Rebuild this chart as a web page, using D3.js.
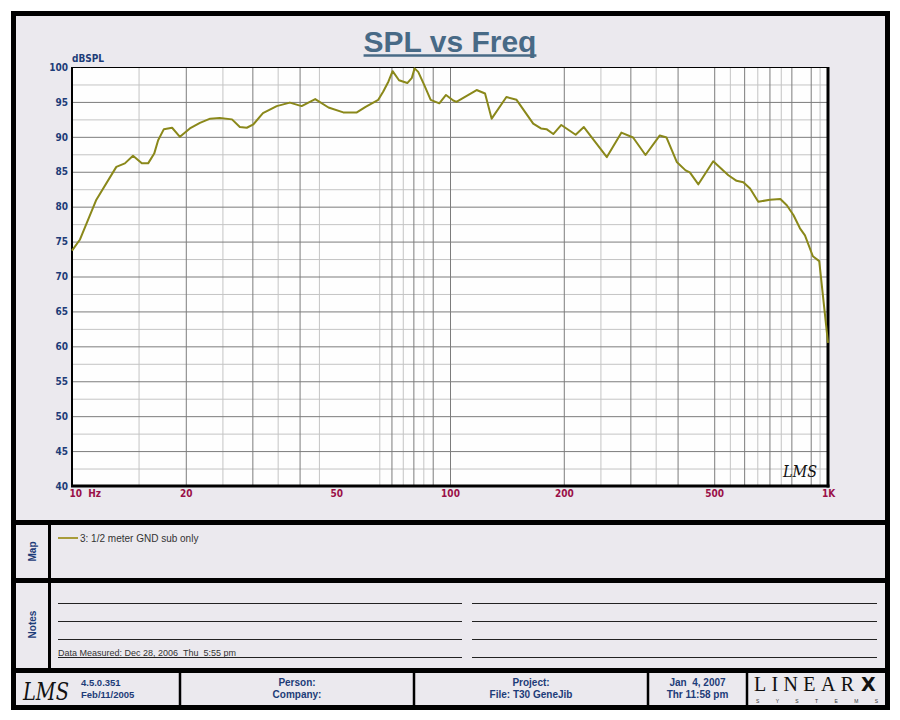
<!DOCTYPE html>
<html>
<head>
<meta charset="utf-8">
<script src="https://cdn.jsdelivr.net/npm/d3@7"></script>
<style>
  body { margin: 0; background: #ffffff; }
  svg { display: block; font-family: "Liberation Sans", Arial, sans-serif; }
  .narrow { font-family: "Liberation Sans Narrow", "DejaVu Sans Condensed", "Liberation Sans", sans-serif; font-weight: bold; }
</style>
</head>
<body>
<div id="chart"></div>
<script>
/* DATA */
const freqHz = [10, 10.5, 11.6, 13.1, 13.8, 14.5, 15.3, 15.9, 16.5, 16.9, 17.5, 18.4, 19.3, 20.5,
  21.8, 23.2, 24.6, 26.5, 27.8, 29.0, 30.2, 32.0, 34.8, 37.7, 40.5, 44.0, 47.7, 52.2, 56.7,
  59.8, 64.6, 66.6, 68.7, 70.5, 73.3, 77.1, 79.2, 80.6, 82.4, 85.5, 88.9, 93.7, 97.6, 102,
  104, 117.6, 123.8, 128.9, 141, 150, 166, 174, 180, 187.6, 197, 215, 226, 260, 284, 305,
  329, 359, 374, 398, 420, 431, 454, 497, 545, 573, 597, 622, 654, 702, 748, 778, 810, 843,
  869, 912, 948, 1000];
const splDb = [73.7, 75.3, 81.0, 85.7, 86.2, 87.3, 86.2, 86.2, 87.6, 89.5, 91.1, 91.3, 90.0, 91.2,
  92.0, 92.6, 92.7, 92.5, 91.4, 91.3, 91.8, 93.4, 94.4, 94.9, 94.4, 95.4, 94.2, 93.5, 93.5,
  94.3, 95.3, 96.5, 97.9, 99.4, 98.1, 97.7, 98.4, 99.8, 99.3, 97.4, 95.3, 94.8, 96.0, 95.2,
  95.0, 96.7, 96.2, 92.6, 95.7, 95.3, 91.9, 91.2, 91.1, 90.4, 91.7, 90.3, 91.4, 87.1, 90.6, 89.9,
  87.4, 90.2, 89.9, 86.4, 85.2, 84.9, 83.2, 86.5, 84.5, 83.7, 83.5, 82.6, 80.7, 81.0, 81.1, 80.2, 78.8, 76.9,
  75.9, 72.9, 72.2, 60.5];

const yTicks = [40, 45, 50, 55, 60, 65, 70, 75, 80, 85, 90, 95, 100];
const yMinorGrid = [42.5, 47.5, 52.5, 57.5, 62.5, 67.5, 72.5, 77.5, 82.5, 87.5, 92.5, 97.5];
const xTickValues = [10, 20, 50, 100, 200, 500, 1000];
const xTickLabels = ["10 Hz", "20", "50", "100", "200", "500", "1K"];
const xMajorGrid = [20, 30, 40, 70, 80, 90, 100, 200, 300, 400, 500, 600, 700, 800, 900];
const xMinorGrid = [15, 25, 35, 45, 65, 75, 85, 250, 350, 550, 650, 750, 950];

const seriesName = "3: 1/2 meter GND sub only";
const noteText = "Data Measured: Dec 28, 2006  Thu  5:55 pm";
const footerCells = [
  ["Person:", "Company:"],
  ["Project:", "File: T30 GeneJib"],
  ["Jan  4, 2007", "Thr 11:58 pm"]
];
const versionLines = ["4.5.0.351", "Feb/11/2005"];

/* CONSTANTS */
const width = 900, height = 720;
const plot = { left: 72, right: 828, top: 67, bottom: 486 };
const bg = "#ebe9ee", navy = "#1d3c78", crimson = "#9a1048", olive = "#8a881a";

const svg = d3.select("#chart").append("svg")
  .attr("width", width)
  .attr("height", height);

// page background + outer frame
svg.append("rect").attr("width", width).attr("height", height).attr("fill", "#ffffff");
svg.append("rect")
  .attr("x", 13.5).attr("y", 13.5).attr("width", 874).attr("height", 694)
  .attr("fill", bg).attr("stroke", "#000").attr("stroke-width", 5);

// + SCALES
const xScale = d3.scaleLog().domain([10, 1000]).range([plot.left, plot.right]);
const yScale = d3.scaleLinear().domain([40, 100]).range([plot.bottom, plot.top]);

// plot background
svg.append("rect")
  .attr("x", plot.left).attr("y", plot.top)
  .attr("width", plot.right - plot.left).attr("height", plot.bottom - plot.top)
  .attr("fill", "#fefefe");

// + GRIDLINES
function gridX(values, color) {
  svg.append("g")
    .attr("transform", `translate(0,${plot.bottom})`)
    .call(d3.axisBottom(xScale).tickValues(values).tickFormat("").tickSize(-(plot.bottom - plot.top)))
    .call(g => g.select(".domain").remove())
    .call(g => g.selectAll("line").attr("stroke", color));
}
function gridY(values, color) {
  svg.append("g")
    .attr("transform", `translate(${plot.left},0)`)
    .call(d3.axisLeft(yScale).tickValues(values).tickFormat("").tickSize(-(plot.right - plot.left)))
    .call(g => g.select(".domain").remove())
    .call(g => g.selectAll("line").attr("stroke", color));
}
gridY(yMinorGrid, "#c4c4c4");
gridX(xMinorGrid, "#c4c4c4");
gridY(yTicks, "#7c7c7c");
gridX(xMajorGrid, "#7c7c7c");

// plot frame
svg.append("line").attr("x1", plot.left).attr("x2", plot.right).attr("y1", plot.top + 0.5).attr("y2", plot.top + 0.5)
  .attr("stroke", "#000").attr("stroke-width", 1);
svg.append("line").attr("x1", plot.left).attr("x2", plot.left).attr("y1", plot.top).attr("y2", plot.bottom)
  .attr("stroke", "#000").attr("stroke-width", 2);
svg.append("line").attr("x1", plot.right).attr("x2", plot.right).attr("y1", plot.top).attr("y2", plot.bottom + 1.5)
  .attr("stroke", "#000").attr("stroke-width", 3);
svg.append("line").attr("x1", plot.left - 1).attr("x2", plot.right + 1.5).attr("y1", plot.bottom).attr("y2", plot.bottom)
  .attr("stroke", "#000").attr("stroke-width", 3);

// + AXES labels
svg.append("g")
  .attr("transform", `translate(${plot.left - 4},0)`)
  .call(d3.axisLeft(yScale).tickValues(yTicks).tickSize(0).tickPadding(0))
  .call(g => g.select(".domain").remove())
  .call(g => g.selectAll("text").attr("class", "narrow").attr("fill", navy).style("font-size", "10px"));

svg.append("g")
  .attr("transform", `translate(0,${plot.bottom + 4})`)
  .call(d3.axisBottom(xScale).tickValues(xTickValues).tickSize(0).tickPadding(0)
    .tickFormat((d, i) => xTickLabels[i]))
  .call(g => g.select(".domain").remove())
  .call(g => g.selectAll("text").attr("class", "narrow").attr("fill", crimson)
    .style("font-size", "10px").attr("word-spacing", "3px"))
  .call(g => g.select(".tick text").attr("text-anchor", "start").attr("dx", -3));

svg.append("text").attr("class", "narrow")
  .attr("x", plot.left).attr("y", 62)
  .attr("fill", navy).style("font-size", "10px")
  .text("dBSPL");

// title
const title = svg.append("text")
  .attr("x", 450).attr("y", 52)
  .attr("text-anchor", "middle")
  .attr("fill", "#486a86")
  .style("font-size", "30px").style("font-weight", "bold")
  .text("SPL vs Freq");
const tb = title.node().getBBox();
svg.append("line")
  .attr("x1", tb.x).attr("x2", tb.x + tb.width)
  .attr("y1", 55.5).attr("y2", 55.5)
  .attr("stroke", "#486a86").attr("stroke-width", 2.5);

// + CURVE
const points = freqHz.map((f, i) => ({ f, db: splDb[i] }));
const line = d3.line().x(d => xScale(d.f)).y(d => yScale(d.db));
svg.append("path")
  .datum(points)
  .attr("d", line)
  .attr("fill", "none")
  .attr("stroke", olive)
  .attr("stroke-width", 2)
  .attr("stroke-linejoin", "round");

// LMS mark in plot corner
svg.append("text")
  .attr("x", 783).attr("y", 477)
  .attr("fill", "#111")
  .style("font-family", "'DejaVu Serif', serif").style("font-style", "italic")
  .style("font-size", "16px")
  .attr("textLength", 34).attr("lengthAdjust", "spacingAndGlyphs")
  .text("LMS");

// + PANELS: dividers
function hbar(y, w) {
  svg.append("line").attr("x1", 13.5).attr("x2", 887.5).attr("y1", y).attr("y2", y)
    .attr("stroke", "#000").attr("stroke-width", w);
}
hbar(522.5, 5);
hbar(580.5, 5);
hbar(670.5, 5);
svg.append("line").attr("x1", 49.5).attr("x2", 49.5).attr("y1", 525).attr("y2", 668)
  .attr("stroke", "#000").attr("stroke-width", 3);

// rotated panel labels
[["Map", 551.5], ["Notes", 624.5]].forEach(([t, cy]) => {
  svg.append("text")
    .attr("transform", `translate(36,${cy}) rotate(-90)`)
    .attr("text-anchor", "middle")
    .attr("fill", navy).style("font-size", "10px").style("font-weight", "bold")
    .text(t);
});

// map legend
svg.append("line").attr("x1", 58).attr("x2", 78).attr("y1", 538).attr("y2", 538)
  .attr("stroke", "#a89c3a").attr("stroke-width", 2);
svg.append("text").attr("x", 80).attr("y", 541.5)
  .attr("fill", "#333").style("font-size", "10px")
  .text(seriesName);

// notes lines
const noteRows = [603, 621, 639, 657];
noteRows.forEach(y => {
  svg.append("line").attr("x1", 58).attr("x2", 462).attr("y1", y + 0.5).attr("y2", y + 0.5).attr("stroke", "#222");
  svg.append("line").attr("x1", 472).attr("x2", 877).attr("y1", y + 0.5).attr("y2", y + 0.5).attr("stroke", "#222");
});
svg.append("text").attr("x", 58).attr("y", 655.5)
  .attr("fill", "#333").style("font-size", "9px")
  .attr("xml:space", "preserve")
  .text(noteText);

// + FOOTER
const dividersX = [180, 414, 648, 747];
dividersX.forEach(x => {
  svg.append("line").attr("x1", x).attr("x2", x).attr("y1", 673).attr("y2", 705)
    .attr("stroke", "#000").attr("stroke-width", 2.5);
});
svg.append("text")
  .attr("x", 23).attr("y", 700)
  .attr("fill", "#111")
  .style("font-family", "'DejaVu Serif', serif").style("font-style", "italic")
  .style("font-size", "25px")
  .attr("textLength", 46).attr("lengthAdjust", "spacingAndGlyphs")
  .text("LMS");
versionLines.forEach((t, i) => {
  svg.append("text").attr("x", 81).attr("y", 686 + i * 12)
    .attr("fill", navy).style("font-size", "9.5px").style("font-weight", "bold")
    .text(t);
});
const cellCenters = [297, 531, 697.5];
footerCells.forEach((lines, c) => {
  lines.forEach((t, i) => {
    svg.append("text").attr("x", cellCenters[c]).attr("y", 686 + i * 12)
      .attr("text-anchor", "middle").attr("xml:space", "preserve")
      .attr("fill", navy).style("font-size", "10px").style("font-weight", "bold")
      .text(t);
  });
});

// LINEAR X logo
svg.append("text").attr("x", 754).attr("y", 691)
  .attr("fill", "#111")
  .style("font-family", "'Liberation Serif', serif").style("font-size", "20px")
  .attr("textLength", 100).attr("lengthAdjust", "spacing")
  .text("LINEAR");
svg.append("text").attr("x", 861).attr("y", 691)
  .attr("fill", "#111")
  .style("font-family", "'DejaVu Sans', sans-serif").style("font-size", "19px").style("font-weight", "900")
  .text("X");
svg.append("text").attr("x", 756).attr("y", 702.5)
  .attr("fill", "#333")
  .style("font-size", "5px")
  .attr("textLength", 122).attr("lengthAdjust", "spacing")
  .text("SYSTEMS");
</script>
</body>
</html>
